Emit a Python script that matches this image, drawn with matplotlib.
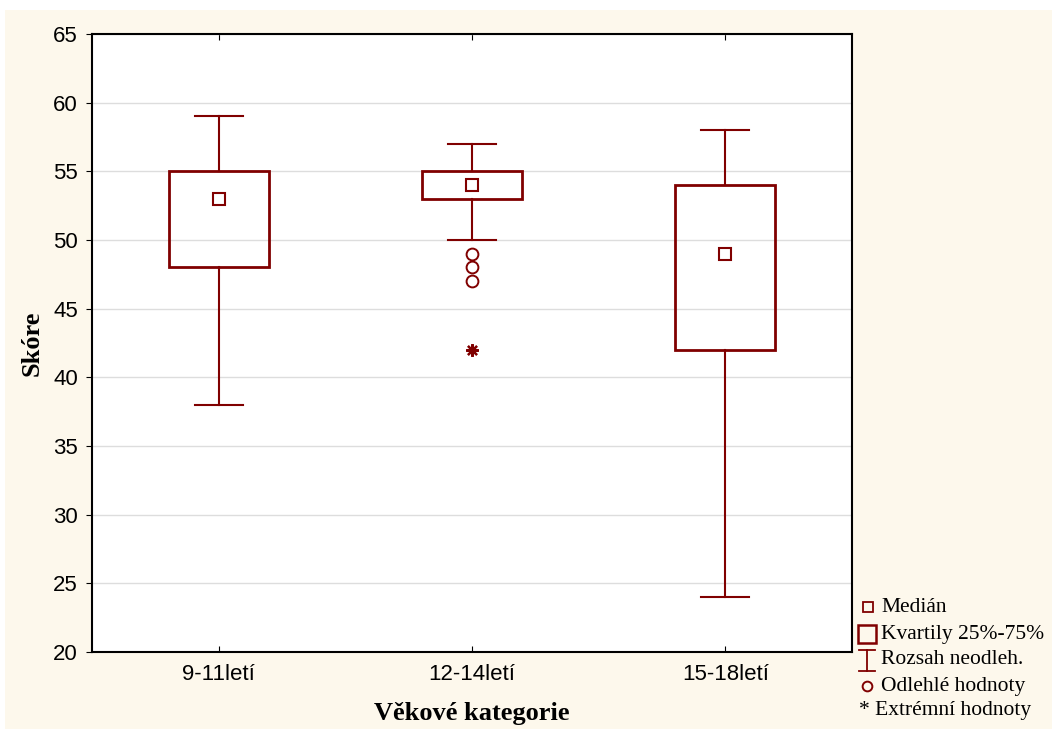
"""Box plot of score by age category (Statistica-style)."""
import matplotlib
matplotlib.use('Agg')
import matplotlib.pyplot as plt
from matplotlib.patches import Rectangle
from matplotlib.lines import Line2D

categories = ['9-11letí', '12-14letí', '15-18letí']
medians = [53, 54, 49]
q1 = [48, 53, 42]
q3 = [55, 55, 54]
whisk_lo = [38, 50, 24]
whisk_hi = [59, 57, 58]
outliers = [[], [47, 48, 49], []]
extremes = [[], [42], []]

RED = '#800000'
BG = '#fdf8ec'

fig = plt.figure(figsize=(10.52, 7.29), dpi=100, facecolor=BG)
# white strip at top and left, as in the cropped original
fig.add_artist(Rectangle((0, 1 - 10 / 729), 1, 10 / 729, transform=fig.transFigure,
                         facecolor='white', edgecolor='none', zorder=-1))
fig.add_artist(Rectangle((0, 0), 5 / 1052, 1, transform=fig.transFigure,
                         facecolor='white', edgecolor='none', zorder=-1))

ax = fig.add_axes([92 / 1052, 1 - 652 / 729, 760 / 1052, 618 / 729])
ax.set_facecolor('white')

box_w = 0.395
cap_w = 0.19
for i, cat in enumerate(categories):
    x = i + 1
    ax.add_patch(Rectangle((x - box_w / 2, q1[i]), box_w, q3[i] - q1[i],
                           facecolor='none', edgecolor=RED, linewidth=2.0, zorder=3))
    ax.plot([x, x], [q3[i], whisk_hi[i]], color=RED, lw=1.5, zorder=3)
    ax.plot([x, x], [q1[i], whisk_lo[i]], color=RED, lw=1.5, zorder=3)
    for w in (whisk_lo[i], whisk_hi[i]):
        ax.plot([x - cap_w / 2, x + cap_w / 2], [w, w], color=RED, lw=1.5, zorder=3)
    ax.plot(x, medians[i], marker='s', ms=8, mfc='white', mec=RED, mew=1.5, zorder=4)
    if outliers[i]:
        ax.plot([x] * len(outliers[i]), outliers[i], 'o', ms=8.5, mfc='none',
                mec=RED, mew=1.4, zorder=4)
    if extremes[i]:
        ax.plot([x] * len(extremes[i]), extremes[i], marker=(8, 2, 0), ms=9,
                color=RED, mew=1.6, ls='none', zorder=4)

ax.set_xlim(0.5, 3.5)
ax.set_ylim(20, 65)
ax.set_yticks(range(20, 66, 5))
ax.set_xticks([1, 2, 3])
ax.set_xticklabels(categories)
ax.yaxis.grid(True, color='#dddddd', lw=1)
ax.set_axisbelow(True)
ax.tick_params(axis='y', direction='out', length=4, labelsize=16, pad=6)
ax.tick_params(axis='x', direction='in', length=4, labelsize=16, pad=9,
               top=True)
for lab in ax.get_xticklabels() + ax.get_yticklabels():
    lab.set_fontfamily('Liberation Sans')
for s in ax.spines.values():
    s.set_linewidth(1.5)

ax.set_ylabel('Skóre', fontfamily='Liberation Serif', fontweight='bold',
              fontsize=19, labelpad=7)
ax.set_xlabel('Věkové kategorie', fontfamily='Liberation Serif', fontweight='bold',
              fontsize=19, labelpad=12)

# legend drawn by hand in pixel coordinates
def fx(px):
    return px / 1052

def fy(py):
    return 1 - py / 729

lx = 867
items = [
    ('Medián', 607),
    ('Kvartily 25%-75%', 634),
    ('Rozsah neodleh.', 660),
    ('Odlehlé hodnoty', 686),
    ('* Extrémní hodnoty', 711),
]
fig.add_artist(Line2D([fx(lx + 1)], [fy(607)], marker='s', ms=7.5, mfc='none', mec=RED,
                      mew=1.3, transform=fig.transFigure))
fig.add_artist(Line2D([fx(lx)], [fy(634)], marker='s', ms=12.5, mfc='none', mec=RED,
                      mew=1.8, transform=fig.transFigure))
fig.add_artist(Line2D([fx(lx), fx(lx)], [fy(650), fy(671)], color=RED, lw=1.3,
                      transform=fig.transFigure))
for yy in (650, 671):
    fig.add_artist(Line2D([fx(lx - 8), fx(lx + 8)], [fy(yy), fy(yy)], color=RED,
                          lw=1.3, transform=fig.transFigure))
fig.add_artist(Line2D([fx(lx)], [fy(686)], marker='o', ms=7, mfc='none', mec=RED,
                      mew=1.4, transform=fig.transFigure))
for text, yy in items:
    x0 = 859 if text.startswith('*') else 881
    fig.text(fx(x0), fy(yy), text, fontfamily='Liberation Serif', fontsize=15.5,
             va='center', ha='left', color='black')

fig.savefig('out.png', dpi=100, facecolor=BG)
